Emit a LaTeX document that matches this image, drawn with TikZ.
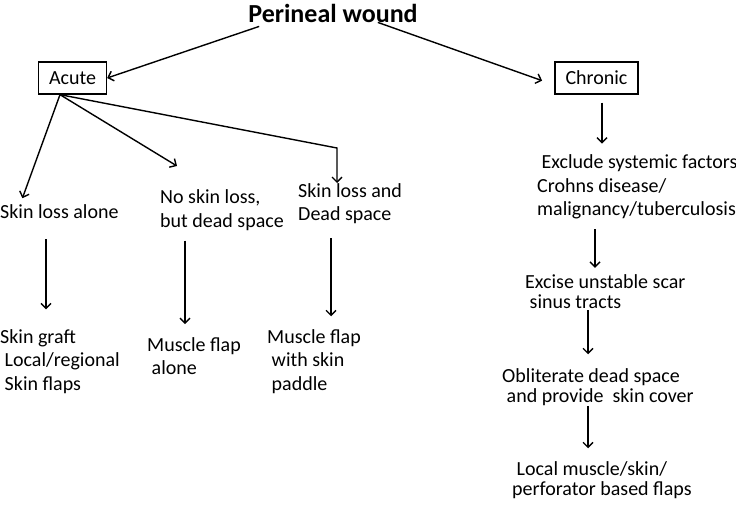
\documentclass[tikz,border=0pt]{standalone}
\usepackage{fontspec}
\setmainfont{Carlito}
\usetikzlibrary{arrows.meta}

\begin{document}
\begin{tikzpicture}[x=1pt, y=-1pt, >={Straight Barb[length=5pt,width=10pt]},
    every node/.style={font=\fontsize{20}{23.5}\selectfont, inner sep=0pt},
    txt/.style={anchor=west, align=left},
    tight/.style={txt, font=\fontsize{20}{20}\selectfont},
    box/.style={draw, line width=1.3pt, minimum height=32pt, inner xsep=10.5pt},
    link/.style={->, line width=1.4pt}]
    \useasboundingbox (0,0) rectangle (736,504);

    \node[font=\fontsize{26}{30}\selectfont\bfseries] (wound) at (333,13) {Perineal wound};
    \node[box] (acute) at (72.5,78) {Acute};
    \node[box] (chronic) at (596.5,78) {Chronic};

    \node[txt] (skinonly) at (0,212) {Skin loss alone};
    \node[txt] (noskin) at (160,210) {No skin loss,\\but dead space};
    \node[txt] (deadskin) at (298,203.5) {Skin loss and\\Dead space};

    \node[txt] (graft) at (0,361.5) {Skin graft\\\ Local/regional\\\ Skin flaps};
    \node[txt] (muscle) at (147,356) {Muscle flap\\\ alone};
    \node[txt] (paddle) at (267,361.5) {Muscle flap\\\ with skin\\\ paddle};

    \node[txt] (exclude) at (537,187) {\ Exclude systemic factors\\Crohns disease/\\malignancy/tuberculosis};
    \node[tight] (excise) at (525,292) {Excise unstable scar\\\ sinus tracts};
    \node[tight] (obliterate) at (502,387) {Obliterate dead space\\\ and provide\ \ skin cover};
    \node[tight] (flaps) at (512,480) {\ Local muscle/skin/\\perforator based flaps};

    \draw[link] ([xshift=11pt,yshift=-4pt]wound.south west) -- (acute.east);
    \draw[link, shorten >=13pt] ([xshift=-40pt]wound.south east) -- ([yshift=-7pt]chronic.west);

    \coordinate (tip) at (177,166);
    \coordinate (bend) at (337,148);
    \draw[link, shorten >=7pt] (acute.south -| 60,0) -- (skinonly.north -| 20,0);
    \draw[link] (acute.south -| 60,0) -- (tip);
    \draw[link] (acute.south -| 60,0) -- (bend) -- (deadskin.north -| bend);

    \draw[link, shorten <=20pt, shorten >=20pt] (skinonly.south -| 46,0) -- (graft.north -| 46,0);
    \draw[link, shorten <=10pt, shorten >=13pt] (noskin.south -| 185,0) -- (muscle.north -| 185,0);
    \draw[link, shorten <=14pt, shorten >=13pt] (deadskin.south -| 331,0) -- (paddle.north -| 331,0);

    \draw[link, shorten <=8pt, shorten >=11pt] (chronic.south -| 602,0) -- (exclude.north -| 602,0);
    \draw[link, shorten <=10pt, shorten >=7pt] (exclude.south -| 595,0) -- (excise.north -| 595,0);
    \draw[link, shorten <=1pt, shorten >=14pt] (excise.south -| 588,0) -- (obliterate.north -| 588,0);
    \draw[link, shorten <=0pt, shorten >=13pt] (obliterate.south -| 588,0) -- (flaps.north -| 588,0);
\end{tikzpicture}
\end{document}
